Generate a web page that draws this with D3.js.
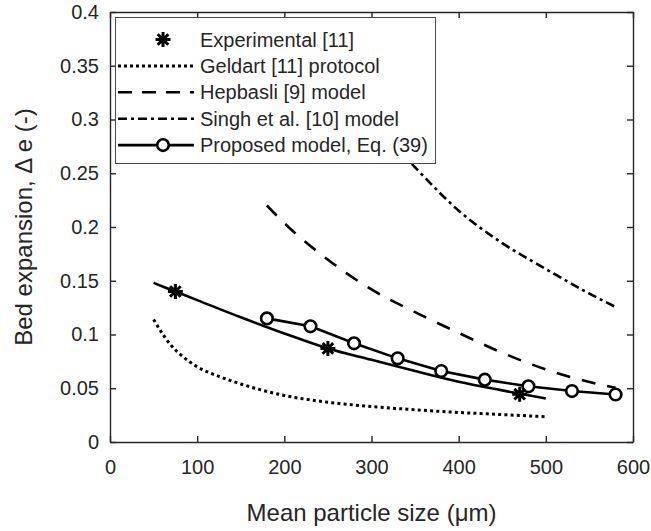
<!DOCTYPE html>
<html>
<head>
<meta charset="utf-8">
<script src="https://cdn.jsdelivr.net/npm/d3@7"></script>
<style>
  body { margin: 0; background: #fff; }
  svg { display: block; font-family: "Liberation Sans", Arial, sans-serif; }
</style>
</head>
<body>
<svg id="chart" width="651" height="531"></svg>
<script>
// Values
const expX = [75, 250, 470];
const expY = [0.14, 0.087, 0.0445];

// solid fit through the experimental points (no legend entry)
const fitX = [50, 75, 100, 150, 200, 250, 300, 350, 400, 450, 500];
const fitY = [0.148, 0.14, 0.132, 0.116, 0.101, 0.087, 0.0765, 0.066, 0.056, 0.048, 0.0405];

const geldartX = [50, 60, 70, 80, 100, 125, 150, 200, 250, 300, 350, 400, 450, 500];
const geldartY = [0.114, 0.101, 0.09, 0.082, 0.07, 0.061, 0.054, 0.0433, 0.037, 0.033, 0.03, 0.0275, 0.0255, 0.0235];

const hepbasliX = [180, 200, 250, 300, 350, 400, 450, 500, 550, 580];
const hepbasliY = [0.22, 0.2036, 0.1696, 0.1419, 0.1208, 0.1015, 0.083, 0.0675, 0.0558, 0.0505];

const singhX = [300, 350, 400, 450, 500, 550, 580];
const singhY = [0.30, 0.2555, 0.2152, 0.185, 0.1609, 0.138, 0.1256];

const propX = [180, 230, 280, 330, 380, 430, 480, 530, 580];
const propY = [0.115, 0.1076, 0.0918, 0.0778, 0.066, 0.058, 0.0518, 0.0474, 0.0442];

const xTicks = [0, 100, 200, 300, 400, 500, 600];
const yTicks = [0, 0.05, 0.1, 0.15, 0.2, 0.25, 0.3, 0.35, 0.4];
const yTickLabels = ["0", "0.05", "0.1", "0.15", "0.2", "0.25", "0.3", "0.35", "0.4"];

const legendLabels = ["Experimental [11]", "Geldart [11] protocol", "Hepbasli [9] model",
  "Singh et al. [10] model", "Proposed model, Eq. (39)"];

const ink = "#262626";
const margin = { top: 12, right: 18, bottom: 89, left: 110 };
const width = 651 - margin.left - margin.right;
const height = 531 - margin.top - margin.bottom;

const svg = d3.select("#chart");
const g = svg.append("g").attr("transform", `translate(${margin.left},${margin.top})`);

const x = d3.scaleLinear().domain([0, 600]).range([0, width]);
const y = d3.scaleLinear().domain([0, 0.4]).range([height, 0]);

// axes box with inward ticks
function styleAxis(sel) {
  sel.selectAll("path, line").attr("stroke", ink).attr("stroke-width", 1.4);
  sel.selectAll("text").attr("fill", ink).style("font-size", "20px")
    .style("font-family", "'Liberation Sans', Arial, sans-serif");
}

g.append("g").attr("transform", `translate(0,${height})`)
  .call(d3.axisBottom(x).tickValues(xTicks).tickSizeInner(-6).tickSizeOuter(0).tickPadding(18))
  .call(styleAxis);
g.append("g")
  .call(d3.axisLeft(y).tickValues(yTicks).tickFormat((d, i) => yTickLabels[i])
    .tickSizeInner(-6).tickSizeOuter(0).tickPadding(11))
  .call(styleAxis);
g.append("g")
  .call(d3.axisTop(x).tickValues(xTicks).tickSizeInner(-6).tickSizeOuter(0).tickFormat(""))
  .call(styleAxis);
g.append("g").attr("transform", `translate(${width},0)`)
  .call(d3.axisRight(y).tickValues(yTicks).tickSizeInner(-6).tickSizeOuter(0).tickFormat(""))
  .call(styleAxis);

// axis titles
svg.append("text")
  .attr("x", margin.left + width / 2).attr("y", 521)
  .attr("text-anchor", "middle").attr("fill", ink).style("font-size", "24px")
  .text("Mean particle size (\u03bcm)");
svg.append("text")
  .attr("transform", `translate(32,${margin.top + height / 2}) rotate(-90)`)
  .attr("text-anchor", "middle").attr("fill", ink).style("font-size", "24px")
  .text("Bed expansion,  \u0394 e (-)");

const zip = (xs, ys) => xs.map((v, i) => ({ x: v, y: ys[i] }));
const smooth = d3.line().x(d => x(d.x)).y(d => y(d.y)).curve(d3.curveMonotoneX);
const straight = d3.line().x(d => x(d.x)).y(d => y(d.y));

const curves = [
  { data: zip(singhX, singhY), dash: "9,4,3,4", width: 2.6, line: smooth },
  { data: zip(hepbasliX, hepbasliY), dash: "14,12", width: 2.6, line: smooth },
  { data: zip(geldartX, geldartY), dash: "3,3.2", width: 3, line: smooth },
  { data: zip(fitX, fitY), dash: null, width: 2.6, line: smooth },
  { data: zip(propX, propY), dash: null, width: 2.6, line: straight }
];

curves.forEach(c => {
  g.append("path")
    .datum(c.data)
    .attr("fill", "none")
    .attr("stroke", "#000")
    .attr("stroke-width", c.width)
    .attr("stroke-dasharray", c.dash)
    .attr("d", c.line);
});

// proposed model markers
g.selectAll(".circ")
  .data(zip(propX, propY))
  .join("circle")
  .attr("class", "circ")
  .attr("cx", d => x(d.x)).attr("cy", d => y(d.y)).attr("r", 5.8)
  .attr("fill", "#fff").attr("stroke", "#000").attr("stroke-width", 2.6);

// experimental asterisks
const star = "M-7.5,0H7.5M0,-7.5V7.5M-5.3,-5.3L5.3,5.3M-5.3,5.3L5.3,-5.3";
g.selectAll(".star")
  .data(zip(expX, expY))
  .join("path")
  .attr("class", "star")
  .attr("transform", d => `translate(${x(d.x)},${y(d.y)})`)
  .attr("d", star)
  .attr("stroke", "#000").attr("stroke-width", 3).attr("fill", "none");

// legend
const legend = svg.append("g");
legend.append("rect")
  .attr("x", 115.5).attr("y", 17.5).attr("width", 320).attr("height", 146)
  .attr("fill", "#fff").attr("stroke", "#4a4a4a").attr("stroke-width", 1);

const rowY = i => 39.5 + i * 26.4;
const styles = [null, "3,3", "14,10", "9,4,3,4", null];
legendLabels.forEach((label, i) => {
  const yy = rowY(i);
  if (i > 0) {
    legend.append("line")
      .attr("x1", 118).attr("x2", 194).attr("y1", yy).attr("y2", yy)
      .attr("stroke", "#000").attr("stroke-width", i === 1 ? 3 : 2.6)
      .attr("stroke-dasharray", styles[i]);
  }
  legend.append("text")
    .attr("x", 200).attr("y", yy).attr("dy", "0.35em")
    .attr("fill", ink).style("font-size", "20px")
    .text(label);
});
legend.append("path")
  .attr("transform", `translate(163,${rowY(0)})`)
  .attr("d", star).attr("stroke", "#000").attr("stroke-width", 3);
legend.append("circle")
  .attr("cx", 163).attr("cy", rowY(4)).attr("r", 5.8)
  .attr("fill", "#fff").attr("stroke", "#000").attr("stroke-width", 2.6);
</script>
</body>
</html>
